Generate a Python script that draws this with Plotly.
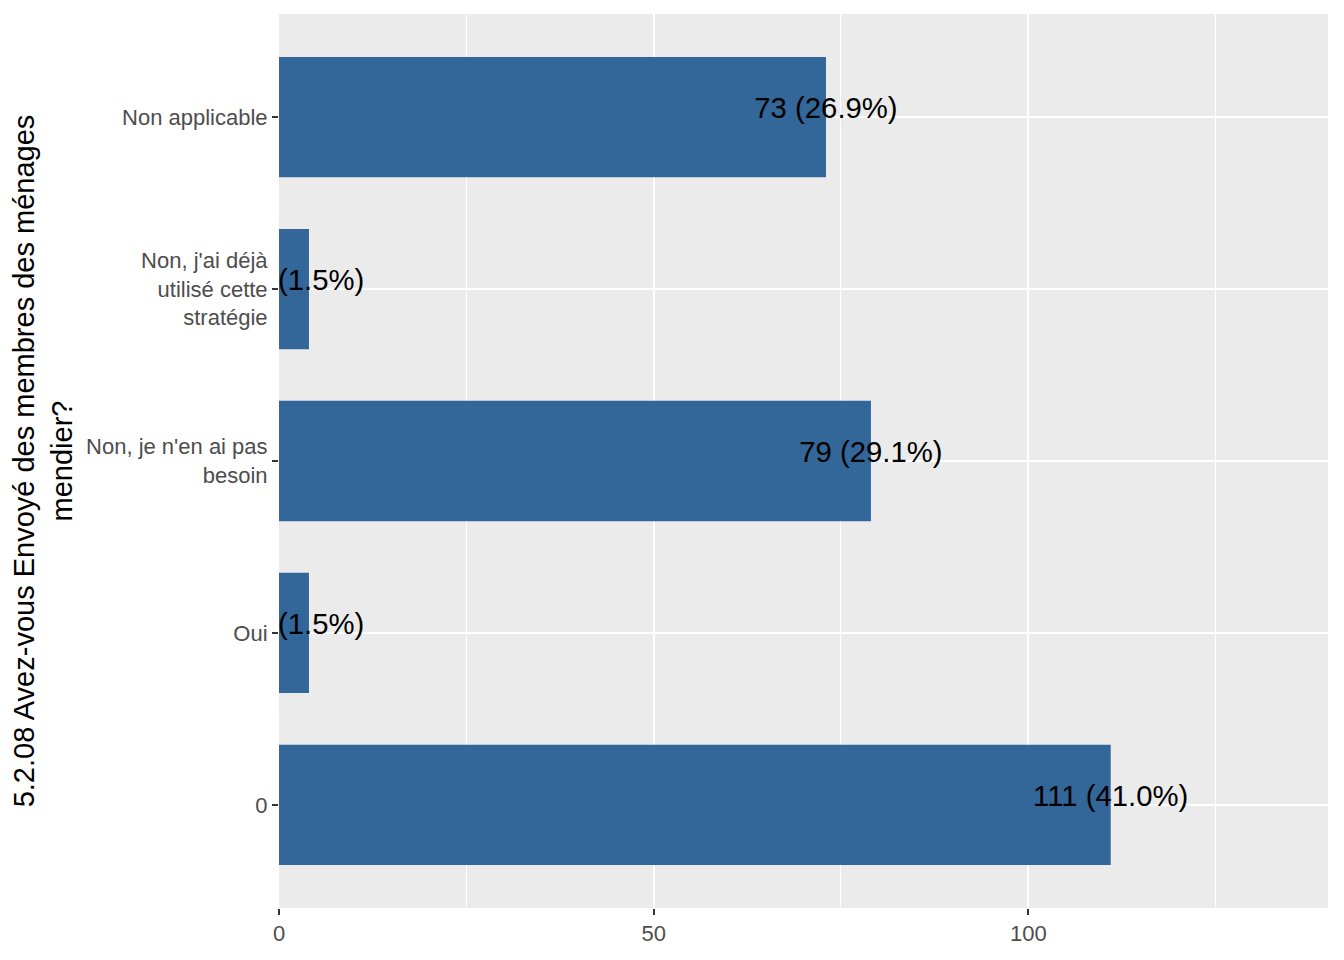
import plotly.graph_objects as go

categories = ["0", "Oui", "Non, je n'en ai pas<br>besoin",
              "Non, j'ai déjà<br>utilisé cette<br>stratégie", "Non applicable"]
counts = [111, 4, 79, 4, 73]
percents = [41.0, 1.5, 29.1, 1.5, 26.9]
x_ticks = [0, 50, 100]
x_minor = [25, 75, 125]

positions = list(range(len(categories)))
labels = [f"{c} ({p:.1f}%)" for c, p in zip(counts, percents)]
label_y = [p + 0.035 for p in positions]

fig = go.Figure()
fig.add_trace(go.Bar(
    x=counts, y=positions, orientation="h", width=0.7,
    marker=dict(color="#336699", line=dict(width=0)),
    showlegend=False, hoverinfo="skip",
))
fig.add_trace(go.Scatter(
    x=counts, y=label_y, mode="text", text=labels,
    textposition="middle center",
    textfont=dict(family="Liberation Sans, Arial", size=29.3, color="black"),
    cliponaxis=True, showlegend=False, hoverinfo="skip",
))

fig.update_layout(
    width=1336, height=952,
    margin=dict(l=271, r=16, t=6, b=52),
    paper_bgcolor="white", plot_bgcolor="#EBEBEB",
    font=dict(family="Liberation Sans, Arial", size=22, color="#4D4D4D"),
    bargap=0.3,
)
fig.update_xaxes(
    range=[0, 140], tickvals=x_ticks, ticktext=[str(v) for v in x_ticks],
    showgrid=True, gridcolor="white", gridwidth=2,
    minor=dict(tickvals=x_minor, showgrid=True, gridcolor="white", gridwidth=1, ticks=""),
    ticks="outside", ticklen=6, tickwidth=1.5, tickcolor="#333333",
    tickfont=dict(size=22, color="#4D4D4D"),
    zeroline=False, showline=False, fixedrange=True,
)
fig.update_yaxes(
    range=[-0.6, 4.6], tickvals=positions, ticktext=categories,
    showgrid=True, gridcolor="white", gridwidth=2,
    ticks="outside", ticklen=6, tickwidth=1.5, tickcolor="#333333",
    tickfont=dict(size=22, color="#4D4D4D"),
    zeroline=False, showline=False,
    title=dict(text="5.2.08 Avez-vous Envoyé des membres des ménages<br>mendier?",
               font=dict(size=29, color="black"), standoff=8),
)

fig.write_html("out.html")
